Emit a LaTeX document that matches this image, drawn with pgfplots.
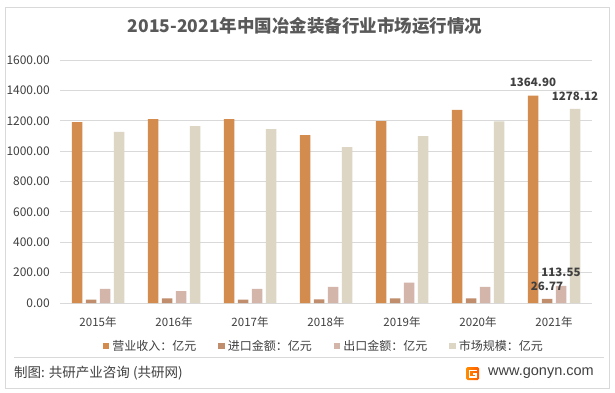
\documentclass[border=0pt]{standalone}
\usepackage{fontspec}
\setmainfont{Noto Sans CJK SC}
\newfontfamily\webfont{Liberation Sans}
\usepackage{pgfplots}
\pgfplotsset{compat=1.18}
\definecolor{cA}{RGB}{212,139,78}
\definecolor{cB}{RGB}{192,142,108}
\definecolor{cC}{RGB}{212,181,170}
\definecolor{cD}{RGB}{221,214,196}
\definecolor{gridc}{RGB}{217,217,217}
\definecolor{txt}{RGB}{64,64,64}
\definecolor{ttl}{RGB}{89,89,89}
\begin{document}
\begin{tikzpicture}[x=1pt,y=1pt]
\useasboundingbox (0,0) rectangle (615,392);
\fill[white] (0,0) rectangle (615,392);
\draw[gridc, line width=0.8pt] (5,4) rectangle (609,385);
\node[font=\fontsize{17.5}{20}\selectfont\bfseries, text=ttl] at (305,366) {2015-2021年中国冶金装备行业市场运行情况};
\begin{axis}[
 at={(98pt,89pt)}, anchor=origin, scale only axis, width=532pt, height=243pt,
 xmin=-0.5, xmax=6.5, ymin=0, ymax=1600,
 ybar=3.5pt, bar width=10.5pt,
 xtick={0,...,6}, xticklabels={2015年,2016年,2017年,2018年,2019年,2020年,2021年},
 ytick={0,200,...,1600},
 major tick length=0pt,
 ymajorgrids, grid style={draw=gridc, line width=0.8pt},
 axis x line*=bottom, axis y line*=left,
 x axis line style={draw=gridc, line width=0.8pt, -},
 y axis line style={draw=none},
 tick label style={text=txt, font=\fontsize{11.5}{13}\selectfont},
 /pgf/number format/assume math mode=true,
 yticklabel style={font=\fontsize{12}{14}\selectfont, /pgf/number format/.cd, fixed, fixed zerofill, precision=2, 1000 sep={}, /tikz/.cd, anchor=east, inner sep=0pt, xshift=-10pt},
 xticklabel style={anchor=center, inner sep=0pt, yshift=-19pt},
 legend columns=4,
 legend style={at={(0.494,-0.177)}, anchor=center, draw=none, fill=none, font=\fontsize{12}{14}\selectfont, text=txt, nodes={inner sep=0pt}, /tikz/every odd column/.append style={column sep=3pt}, /tikz/every even column/.append style={column sep=22pt}},
 legend image code/.code={\fill[#1] (0pt,-3.25pt) rectangle (6.5pt,3.25pt);},
 nodes near coords={\pgfplotspointmeta}, point meta=explicit symbolic,
 every node near coord/.append style={font=\fontsize{11.5}{13}\selectfont\bfseries, text=txt, inner sep=0pt, yshift=8.5pt},
]
\addplot[fill=cA, draw=none] coordinates {(0,1191) [] (1,1211) [] (2,1211) [] (3,1106) [] (4,1198) [] (5,1271) [] (6,1364.90) [1364.90]};
\addplot[fill=cB, draw=none] coordinates {(0,22) [] (1,30) [] (2,23) [] (3,24) [] (4,31) [] (5,30) [] (6,26.77) [26.77]};
\addplot[fill=cC, draw=none] coordinates {(0,93) [] (1,78) [] (2,93) [] (3,106) [] (4,135) [] (5,106) [] (6,113.55) [113.55]};
\addplot[fill=cD, draw=none] coordinates {(0,1126) [] (1,1165) [] (2,1145) [] (3,1027) [] (4,1099) [] (5,1196) [] (6,1278.12) [1278.12]};
\legend{营业收入：亿元,进口金额：亿元,出口金额：亿元,市场规模：亿元}
\end{axis}
\draw[gridc, line width=0.8pt] (14,35) -- (604,35);
\node[anchor=west, inner sep=0pt, font=\fontsize{13.5}{15}\selectfont, text=txt] at (14,19) {制图: 共研产业咨询 (共研网)};
\shade[left color=orange!90!yellow, right color=orange!70!red, rounded corners=1.5pt] (466,12) rectangle (479,25);
\draw[white, line width=1.5pt] (468.5,21.5) -- (477,21.5);
\draw[white, line width=1.5pt] (469.5,21.5) -- (469.5,15) -- (476,15) -- (476,18) -- (473,18);
\node[anchor=west, inner sep=0pt, font=\webfont\fontsize{14.5}{16}\selectfont, text=txt] at (488,19) {www.gonyn.com};
\end{tikzpicture}
\end{document}
